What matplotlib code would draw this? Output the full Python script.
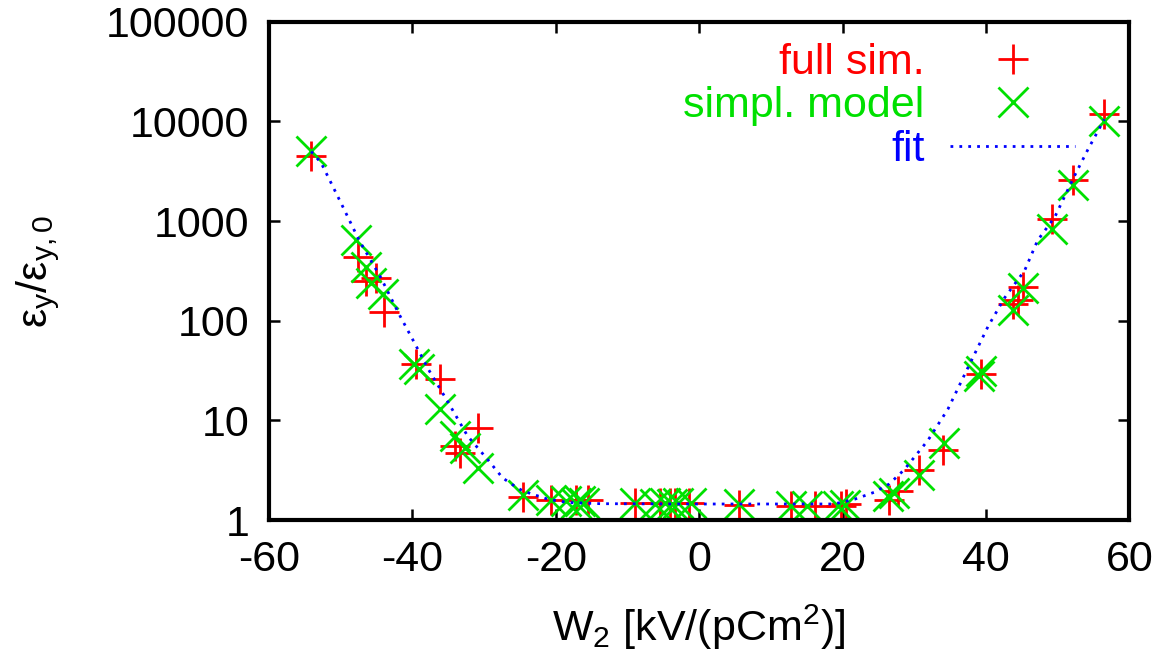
import numpy as np
import matplotlib
matplotlib.use("Agg")
import matplotlib.pyplot as plt
from matplotlib.ticker import LogLocator, FixedLocator, NullFormatter

plt.rcParams['font.family'] = ['Liberation Sans', 'DejaVu Sans']
plt.rcParams['mathtext.fontset'] = 'custom'
plt.rcParams['mathtext.rm'] = 'Liberation Sans'
plt.rcParams['mathtext.it'] = 'Liberation Sans'

# full simulation (red +)
full_x = [-54.1, -47.6, -46.4, -45.0, -44.0, -39.5, -36.2, -34.1, -33.4, -30.9,
          -24.5, -20.6, -17.2, -15.5, -9.0, -5.5, -4.1, -3.4, -1.35, 5.6,
          12.8, 16.1, 19.8, 20.5, 26.5, 27.7, 30.7, 34.0, 39.3, 43.75,
          44.5, 45.2, 49.2, 52.1, 56.5]
full_y = [4550, 433, 252, 267, 122, 37, 26, 5.5, 4.7, 8.3,
          1.72, 1.6, 1.6, 1.6, 1.48, 1.48, 1.48, 1.48, 1.48, 1.42,
          1.4, 1.4, 1.4, 1.45, 1.6, 1.95, 3.2, 5.0, 29, 149,
          160, 220, 1060, 2600, 11860]

# simplified model (green x)
simp_x = [-54.1, -47.8, -46.4, -45.7, -44.1, -39.7, -39.0, -36.2, -34.1, -32.7,
          -30.9, -24.5, -20.6, -18.5, -17.2, -16.6, -16.0, -9.0, -6.2, -4.8,
          -3.8, -2.9, -1.2, 5.6, 12.8, 15.1, 19.4, 20.3, 26.4, 27.2,
          30.7, 34.1, 39.0, 39.3, 43.75, 45.2, 49.2, 52.1, 56.5]
simp_y = [5000, 640, 343, 242, 184, 37, 33, 13, 7.0, 5.3,
          3.35, 1.8, 1.6, 1.55, 1.5, 1.55, 1.5, 1.48, 1.45, 1.47,
          1.45, 1.47, 1.47, 1.45, 1.4, 1.4, 1.4, 1.42, 1.75, 1.85,
          2.86, 6.0, 28, 31, 128, 211, 840, 2280, 10100]

# fit curve (blue dotted)
fit_x = [-54.1, -52.7, -49.9, -47.4, -44.4, -41.8, -39.9, -37.8, -35.0, -32.3,
         -29.5, -27.4, -25.3, -24.4, -21.1, -18.3, -13.7, 0.0, 18.8, 21.7,
         24.4, 26.5, 28.6, 31.9, 34.7, 37.5, 40.3, 42.6, 45.4, 47.2,
         49.6, 52.3, 54.2, 56.5]
fit_y = [5000, 3830, 1500, 640, 272, 115, 64, 33, 15.2, 7.0,
         4.06, 2.65, 2.09, 1.94, 1.62, 1.5, 1.46, 1.45, 1.45, 1.62,
         1.9, 2.3, 3.2, 6.3, 13, 34, 88, 170, 320, 640,
         1100, 2800, 5200, 10500]

xticks = [-60, -40, -20, 0, 20, 40, 60]
yticks = [1, 10, 100, 1000, 10000, 100000]

red = '#ff0000'
green = '#00e000'
blue = '#0000ff'
fs = 31

fig = plt.figure(figsize=(11.74, 6.6), dpi=100)
ax = fig.add_axes([0.229, 0.212, 0.733, 0.755])

ax.plot(full_x, full_y, ls='none', marker='+', ms=22, mew=2, color=red, label='full sim.')
ax.plot(simp_x, simp_y, ls='none', marker='x', ms=21, mew=2, color=green, label='simpl. model')
ax.plot(fit_x, fit_y, ls=(0, (1, 2.2)), lw=2, color=blue, label='fit')

ax.set_yscale('log')
ax.set_xlim(-60, 60)
ax.set_ylim(1, 100000)

ax.xaxis.set_major_locator(FixedLocator(xticks))
ax.set_xticklabels([str(t) for t in xticks])
ax.yaxis.set_major_locator(FixedLocator(yticks))
ax.set_yticklabels([str(t) for t in yticks])
ax.yaxis.set_minor_locator(LogLocator(base=10, subs=(2, 5, 8)))
ax.yaxis.set_minor_formatter(NullFormatter())

for s in ax.spines.values():
    s.set_linewidth(3)
ax.tick_params(which='both', direction='in', top=True, right=True, width=1.8)
ax.tick_params(which='major', length=8, labelsize=fs)
ax.tick_params(which='minor', length=5)
ax.tick_params(axis='x', which='major', pad=14)
ax.tick_params(axis='y', which='major', pad=14)

ax.set_xlabel(r'$\mathregular{W_2\ [kV/(pCm^2)]}$', fontsize=fs)
ax.xaxis.set_label_coords(0.5, -0.165)
ax.set_ylabel(r'$\mathregular{ε_y/ε_{y,0}}$', fontsize=fs)
ax.yaxis.set_label_coords(-0.24, 0.5)

leg = ax.legend(loc='upper right', bbox_to_anchor=(0.937, 0.958), frameon=False,
                markerfirst=False, fontsize=fs, handlelength=2.9, handletextpad=0.6,
                labelspacing=0.08, borderaxespad=0, borderpad=0)
for txt, c in zip(leg.get_texts(), [red, green, blue]):
    txt.set_color(c)

fig.savefig('out.png', dpi=100)
